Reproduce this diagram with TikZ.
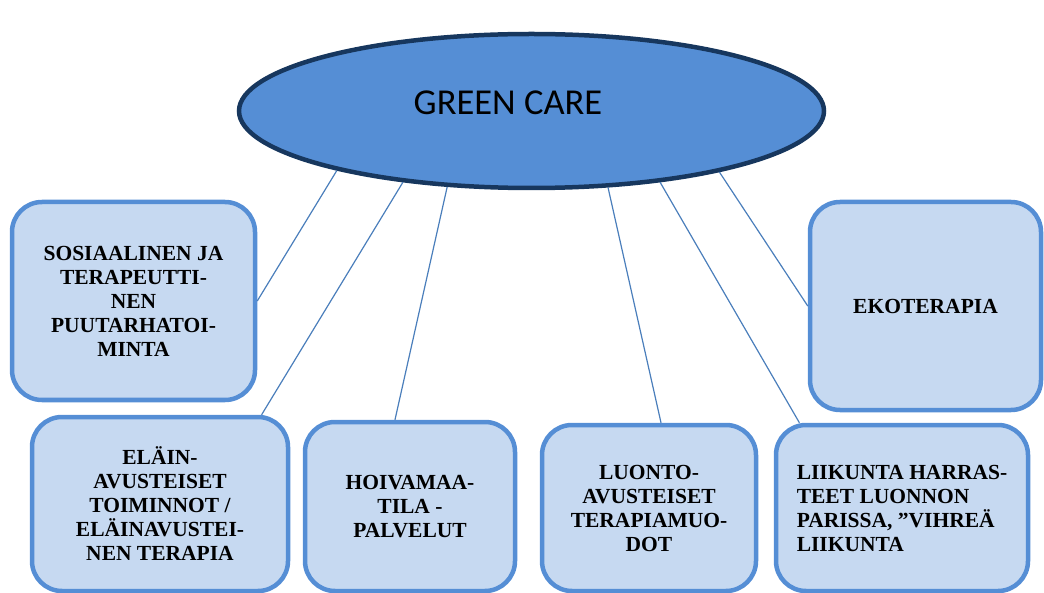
\documentclass[tikz,border=0pt]{standalone}
\usepackage{fontspec}
\setmainfont{Liberation Serif}
\newfontfamily\calibri{Carlito}
\usetikzlibrary{shapes.geometric,calc}
\definecolor{boxfill}{HTML}{C6D9F1}
\definecolor{boxline}{HTML}{558ED5}
\definecolor{ellfill}{HTML}{558ED5}
\definecolor{ellline}{HTML}{17375E}
\definecolor{conn}{HTML}{4A7EBB}
\begin{document}
\begin{tikzpicture}[x=1pt,y=-1pt,
  card/.style={draw=boxline, fill=boxfill, line width=4.5pt, rounded corners=30pt,
    font=\fontsize{21.5}{24}\selectfont\bfseries, align=center, inner sep=0pt},
  hub/.style={ellipse, draw=ellline, fill=ellfill, line width=4.5pt, inner sep=0pt},
  hubtext/.style={font=\calibri\fontsize{36.5}{40}\selectfont, inner sep=0pt},
  link/.style={draw=conn, line width=1.2pt}]
\useasboundingbox (0,0) rectangle (1044,593);

\node[hub, minimum width=585pt, minimum height=154pt] (e) at (531.5,111) {};
\node[hubtext] (gc) at (508,103) {GREEN CARE};

\node[card, minimum width=243pt, minimum height=198pt] (b1) at (133.5,301)
  {SOSIAALINEN JA\\TERAPEUTTI-\\NEN\\PUUTARHATOI-\\MINTA};
\node[card, minimum width=256pt, minimum height=174pt] (b2) at (160,504)
  {ELÄIN-\\AVUSTEISET\\TOIMINNOT /\\ELÄINAVUSTEI-\\NEN TERAPIA};
\node[card, minimum width=210pt, minimum height=169pt] (b3) at (410,506.5)
  {HOIVAMAA-\\TILA -\\PALVELUT};
\node[card, minimum width=214pt, minimum height=166pt] (b4) at (649,508)
  {LUONTO-\\AVUSTEISET\\TERAPIAMUO-\\DOT};
\node[card, minimum width=252pt, minimum height=166pt, align=left] (b5) at (902,508)
  {LIIKUNTA HARRAS-\\TEET LUONNON\\PARISSA, ”VIHREÄ\\LIIKUNTA};
\node[card, minimum width=231pt, minimum height=208pt] (b6) at (925.5,306)
  {EKOTERAPIA};

\draw[link] (e.197) -- (b1.east);
\draw[link] (e.209.4) -- ($(b2.north west)!0.89!(b2.north east)$);
\draw[link] (e.222) -- ($(b3.north west)!0.43!(b3.north east)$);
\draw[link] (e.315.8) -- ($(b4.north west)!0.555!(b4.north east)$);
\draw[link] (e.331.4) -- ($(b5.north west)!0.10!(b5.north east)$);
\draw[link] (e.342.3) -- (b6.west);
\end{tikzpicture}
\end{document}
